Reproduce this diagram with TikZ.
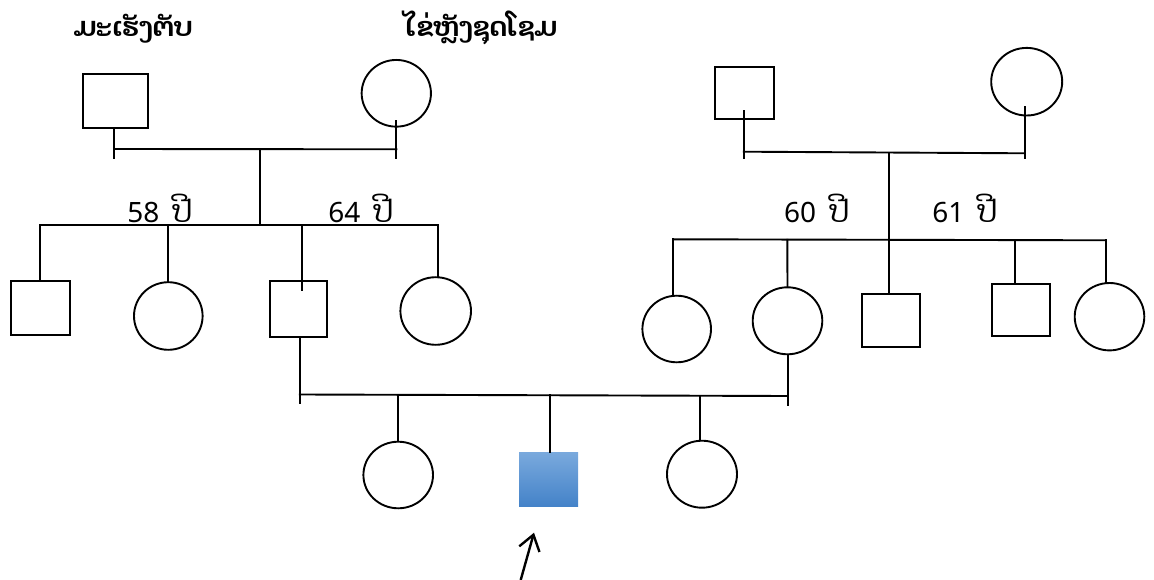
\documentclass[tikz,border=0pt]{standalone}
\usepackage{fontspec}
\usetikzlibrary{calc,shapes.geometric,arrows.meta}
\newfontfamily\laofont[Script=Lao]{Dhyana}
\newfontfamily\numfont{Noto Sans}
\definecolor{blueTop}{RGB}{121,169,221}
\definecolor{blueBot}{RGB}{67,130,200}
\tikzset{
  ln/.style={line width=1.9pt, line cap=rect},
  male/.style={draw, line width=1.9pt, rectangle, inner sep=0pt},
  female/.style={draw, line width=1.9pt, ellipse, inner sep=0pt},
  proband/.style={rectangle, inner sep=0pt, top color=blueTop, bottom color=blueBot},
  title/.style={font=\laofont\bfseries\fontsize{26.5}{30}\selectfont, anchor=base},
  age/.style={font=\numfont\fontsize{28}{30}\selectfont, anchor=base, inner sep=0pt}
}
\newcommand{\pee}{\hspace{13pt}{\laofont\fontsize{31}{32}\selectfont ປີ}}
\begin{document}
\begin{tikzpicture}[x=1pt,y=-1pt]
\useasboundingbox (0,0) rectangle (1154,580);
% generation I, left
\node[male, minimum width=65pt, minimum height=53.4pt] (gf1) at (115.8,101) {};
\node[female, minimum width=69.3pt, minimum height=66.7pt] (gm1) at (396.3,93.3) {};
% generation I, right
\node[male, minimum width=59pt, minimum height=52.6pt] (gf2) at (744.5,93) {};
\node[female, minimum width=71pt, minimum height=67.6pt] (gm2) at (1026.7,81.7) {};
% generation II, left
\node[male, minimum width=58.7pt, minimum height=53.4pt] (a1) at (40.3,308) {};
\node[female, minimum width=68.6pt, minimum height=67.6pt] (a2) at (168.3,316) {};
\node[male, minimum width=57.3pt, minimum height=56pt] (a3) at (298.7,308.7) {};
\node[female, minimum width=70.6pt, minimum height=67.6pt] (a4) at (435.7,311) {};
% generation II, right
\node[female, minimum width=68.6pt, minimum height=66.6pt] (b1) at (676.7,329) {};
\node[female, minimum width=69.6pt, minimum height=67pt] (b2) at (787.5,320.8) {};
\node[male, minimum width=58.6pt, minimum height=53pt] (b3) at (891,320.5) {};
\node[male, minimum width=58.3pt, minimum height=52.3pt] (b4) at (1020.8,309.8) {};
\node[female, minimum width=69.6pt, minimum height=67.4pt] (b5) at (1109.5,316.7) {};
% generation III
\node[female, minimum width=69.6pt, minimum height=66.6pt] (c1) at (398.2,475) {};
\node[proband, minimum width=59pt, minimum height=54.3pt] (c2) at (548.5,479.8) {};
\node[female, minimum width=70pt, minimum height=67pt] (c3) at (702,474.2) {};

% junction coordinates
\coordinate (t1) at (0,157.7);
\coordinate (f1in) at (114.3,128);
\coordinate (m1a) at (114.3,149);
\coordinate (m1) at (260,149.3);
\coordinate (s1) at (260,225);
\coordinate (a3in) at (302,290);
\coordinate (a4top) at (437.7,225);
\coordinate (gm1in) at (396.3,120.7);
\coordinate (f2in) at (743.7,111);
\coordinate (m2in) at (1025,106.7);
\coordinate (m2t) at (1025,158.3);
\coordinate (m2a) at (743.7,151.7);
\coordinate (m2b) at (1025,153.3);
\coordinate (m2c) at (889,152.5);
\coordinate (s2a) at (673.3,239.3);
\coordinate (s2b) at (1106,240.3);
\coordinate (s2d) at (787.3,239.8);
\coordinate (s2e) at (1014.7,240.1);
\coordinate (q1) at (299.7,394.5);
\coordinate (q2) at (787.9,396);
\coordinate (q1t) at (299.7,403.3);
\coordinate (q2t) at (787.9,405);
\coordinate (k1) at (398.3,394.9);
\coordinate (k2) at (550,395.2);
\coordinate (k3) at (700.3,395.6);
\coordinate (arrTail) at (520.7,580);
\coordinate (arrTip) at (534,532.7);

% left family
\draw[ln] (f1in) -- (f1in |- t1);
\draw[ln] (gm1in) -- (gm1in |- t1);
\draw[ln] (m1a) -- (gm1in |- m1);
\draw[ln] (m1) -- (s1);
\draw[ln] (a1.north) -- (a1.north |- s1) -- (a4top);
\draw[ln] (a4top) -- (a4top |- a4.north);
\draw[ln] (a2.north) -- (a2.north |- s1);
\draw[ln] (a3in) -- (a3in |- s1);

% right family
\draw[ln] (f2in) -- (f2in |- t1);
\draw[ln] (m2in) -- (m2t);
\draw[ln] (m2a) -- (m2b);
\draw[ln] (m2c) -- (m2c |- b3.north);
\draw[ln] (s2a) -- (s2b);
\draw[ln] (s2a) -- (s2a |- b1.north);
\draw[ln] (s2d) -- (b2.north);
\draw[ln] (s2e) -- (s2e |- b4.north);
\draw[ln] (s2b) -- (s2b |- b5.north);

% marriage of generation II
\draw[ln] (a3.south -| q1) -- (q1t);
\draw[ln] (b2.south -| q2) -- (q2t);
\draw[ln] (q1) -- (q2);
\draw[ln] (k1) -- (k1 |- c1.north);
\draw[ln] (k2) -- (k2 |- c2.north);
\draw[ln] (k3) -- (k3 |- c3.north);

% arrow to proband
\draw[line width=2.4pt, -{Straight Barb[length=15pt,width=21pt,line width=2.4pt]}] (arrTail) -- (arrTip);

% labels
\node[title] (l1) at (133,36.7) {ມະເຮັງຕັບ};
\node[title] (l2) at (481,36.7) {ໄຂ່ຫຼັງຊຸດໂຊມ};
\node[age] (g1) at (160,222.5) {58\pee};
\node[age] (g2) at (361,222.5) {64\pee};
\node[age] (g3) at (816.7,222.3) {60\pee};
\node[age] (g4) at (965,222.3) {61\pee};
\end{tikzpicture}
\end{document}
